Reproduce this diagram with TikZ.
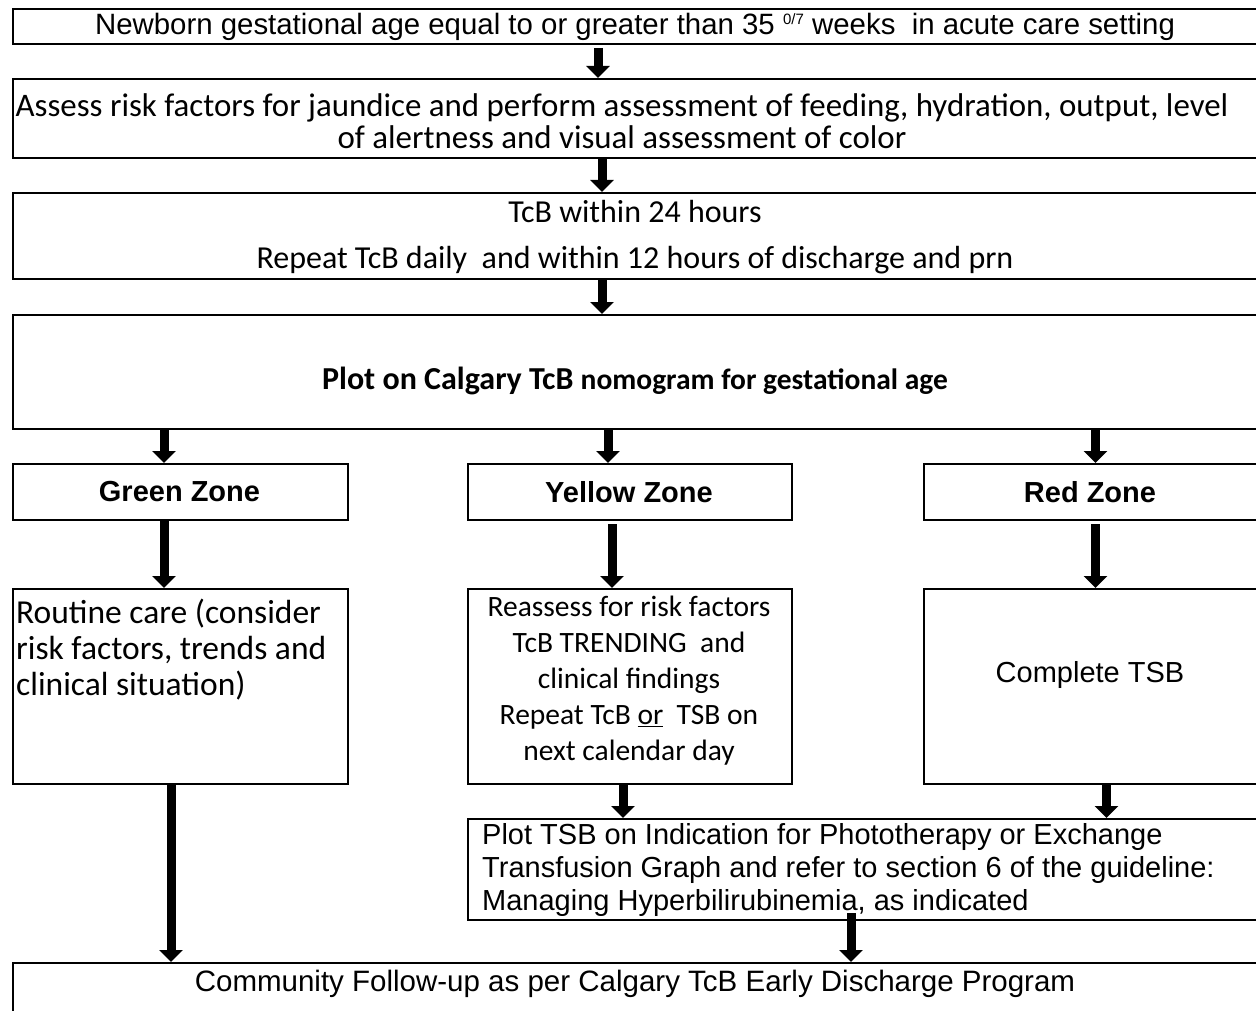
\documentclass[tikz,border=0pt]{standalone}
\usepackage{fontspec}
\setmainfont{Liberation Sans}
\newfontfamily\calib{Carlito}
\usetikzlibrary{arrows.meta,calc}
\begin{document}
\begin{tikzpicture}[x=1pt,y=-1pt,
  box/.style={draw=black,line width=2pt,inner sep=0pt,anchor=north west,fill=white},
  arr/.style={line width=9pt,-{Triangle[width=23pt,length=12pt]}},
  txt/.style={inner sep=0pt,align=center}]
\useasboundingbox (0,0) rectangle (1256,1011);
\clip (0,0) rectangle (1256,1011);
\fill[white] (0,0) rectangle (1256,1011);
% boxes
\node[box,minimum width=1246pt,minimum height=35pt] (b1) at (12,8) {};
\node[box,minimum width=1246pt,minimum height=79pt] (b2) at (12,78) {};
\node[box,minimum width=1246pt,minimum height=86pt] (b3) at (12,192) {};
\node[box,minimum width=1246pt,minimum height=114pt] (b4) at (12,314) {};
\node[box,minimum width=335pt,minimum height=56pt] (zg) at (12,463) {};
\node[box,minimum width=324pt,minimum height=56pt] (zy) at (467,463) {};
\node[box,minimum width=335pt,minimum height=56pt] (zr) at (923,463) {};
\node[box,minimum width=335pt,minimum height=195pt] (rg) at (12,588) {};
\node[box,minimum width=324pt,minimum height=195pt] (ry) at (467,588) {};
\node[box,minimum width=335pt,minimum height=195pt] (rr) at (923,588) {};
\node[box,minimum width=791pt,minimum height=101pt] (pt) at (467,818) {};
\node[box,minimum width=1246pt,minimum height=80pt] (cf) at (12,962) {};
% texts
\node[txt,font=\fontsize{29.4}{34}\selectfont] (t1) at (635,27) {Newborn gestational age equal to or greater than 35 \raisebox{10pt}{\fontsize{15}{15}\selectfont 0/7} weeks\ \ in acute care setting};
\node[txt,font=\calib\fontsize{32.9}{32}\selectfont] (t2) at (622,121) {Assess risk factors for jaundice and perform assessment of feeding, hydration, output, level\\of alertness and visual assessment of color};
\node[txt,font=\calib\fontsize{32}{46}\selectfont] (t3) at (635,237) {TcB within 24 hours\\Repeat TcB daily\ \ and within 12 hours of discharge and prn};
\node[txt,font=\calib\bfseries\fontsize{32}{34}\selectfont] (t4) at (635,381) {Plot on Calgary TcB {\fontsize{29.5}{34}\selectfont nomogram for gestational age}};
\node[txt,font=\bfseries\fontsize{29}{34}\selectfont] (tg) at (179.5,492) {Green Zone};
\node[txt,font=\bfseries\fontsize{29}{34}\selectfont] (ty) at (629,492) {Yellow Zone};
\node[txt,font=\bfseries\fontsize{29}{34}\selectfont] (tr) at (1090,492) {Red Zone};
\node[txt,align=left,anchor=west,font=\calib\fontsize{33.5}{36}\selectfont] (trg) at (16,650) {Routine care (consider\\risk factors, trends and\\clinical situation)};
\node[txt,font=\calib\fontsize{29.5}{36}\selectfont] (try) at (629,681) {Reassess for risk factors\\TcB TRENDING\ \ and\\clinical findings\\Repeat TcB \underline{or}\ \ TSB on\\next calendar day};
\node[txt,font=\fontsize{29}{34}\selectfont] (trr) at (1090,675) {Complete TSB};
\node[txt,align=left,anchor=west,font=\fontsize{29}{33}\selectfont] (tpt) at (482,870) {Plot TSB on Indication for Phototherapy or Exchange\\Transfusion Graph and refer to section 6 of the guideline:\\Managing Hyperbilirubinemia, as indicated};
\node[txt,font=\fontsize{29.5}{34}\selectfont] (tcf) at (635,984) {Community Follow-up as per Calgary TcB Early Discharge Program};
% arrows
\draw[arr] ([xshift=-38pt,yshift=-3pt]b1.south) -- ([xshift=-38pt]b2.north);
\draw[arr] ([xshift=-34pt]b2.south) -- ([xshift=-34pt]b3.north);
\draw[arr] ([xshift=-34pt]b3.south) -- ([xshift=-34pt]b4.north);
\draw[arr] ([xshift=-16.5pt]zg.north |- b4.south) -- ([xshift=-16.5pt]zg.north);
\draw[arr] ([xshift=-22pt]zy.north |- b4.south) -- ([xshift=-22pt]zy.north);
\draw[arr] ([xshift=4pt]zr.north |- b4.south) -- ([xshift=4pt]zr.north);
\draw[arr] ([xshift=-16.5pt]zg.south) -- ([xshift=-16.5pt]rg.north);
\draw[arr] ([xshift=-18pt,yshift=-3pt]zy.south) -- ([xshift=-18pt]ry.north);
\draw[arr] ([xshift=4pt,yshift=-3pt]zr.south) -- ([xshift=4pt]rr.north);
\draw[arr] ([xshift=-9.5pt]rg.south) -- ([xshift=-9.5pt]rg.south |- cf.north);
\draw[arr] ([xshift=-7pt]ry.south) -- ([xshift=-7pt]ry.south |- pt.north);
\draw[arr] ([xshift=15pt]rr.south) -- ([xshift=15pt]rr.south |- pt.north);
\draw[arr] ([xshift=-12.5pt,yshift=8pt]pt.south) -- ([xshift=-12.5pt]pt.south |- cf.north);
\end{tikzpicture}
\end{document}
